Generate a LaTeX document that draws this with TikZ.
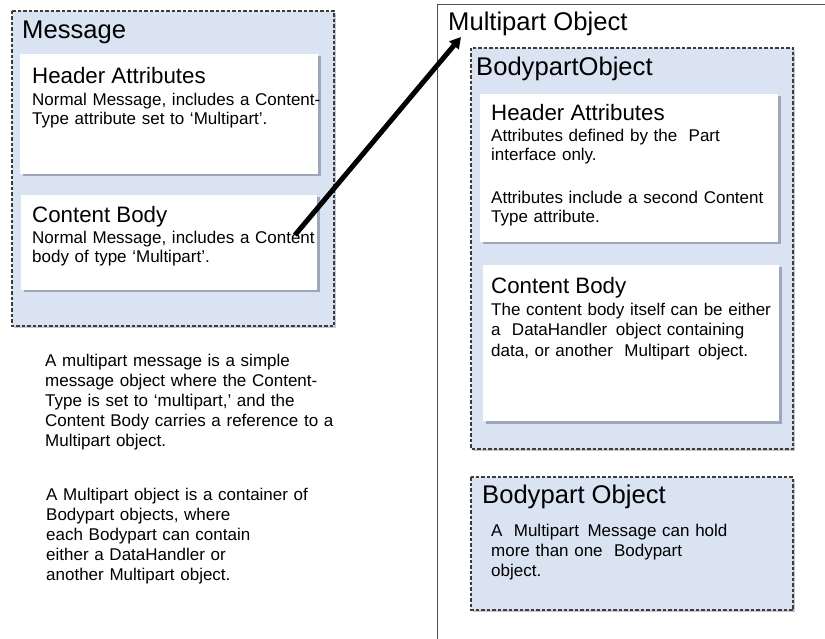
\documentclass[tikz,border=0pt]{standalone}
\usepackage{fontspec}
\setmainfont{Liberation Sans}
\usetikzlibrary{shadows,arrows.meta}
\definecolor{boxblue}{RGB}{218,227,242}
\definecolor{dashgray}{RGB}{60,60,60}
\definecolor{framegray}{RGB}{80,80,80}
\definecolor{shadowcol}{RGB}{110,118,140}
\begin{document}
\begin{tikzpicture}[x=1pt,y=-1pt,
  outerbox/.style={draw=dashgray, dash pattern=on 3.5pt off 2pt, line width=1.1pt, fill=boxblue,
    drop shadow={shadow xshift=2pt, shadow yshift=-2pt, opacity=0.4, fill=shadowcol}},
  whitebox/.style={fill=white,
    drop shadow={shadow xshift=2.5pt, shadow yshift=-2.5pt, opacity=0.55, fill=shadowcol}},
  titletext/.style={anchor=base west, inner sep=0pt, font=\fontsize{25.6}{28}\selectfont},
  headtext/.style={anchor=base west, inner sep=0pt, font=\fontsize{22.3}{25}\selectfont},
  bodytext/.style={anchor=base west, inner sep=0pt, align=left, text width=300pt,
    font=\fontsize{17}{18.5}\selectfont},
  looseText/.style={bodytext, font=\fontsize{17}{20}\selectfont},
]
\useasboundingbox (0,0) rectangle (825,639);
\clip (0,0) rectangle (825,639);

% Message box
\path[outerbox] (12,11) rectangle (334,326);
\node[titletext] (msgtitle) at (22,39) {Message};
\path[whitebox] (20,54) rectangle (318,174);
\node[headtext] (lhead) at (32,84) {Header Attributes};
\node[bodytext] (lheadbody) at (32,106) {Normal Message, includes a Content-\\Type attribute set to ‘Multipart’.};
\path[whitebox] (21,195) rectangle (317,290);
\node[headtext] (lcont) at (32,223) {Content Body};
\node[bodytext] (lcontbody) at (32,244) {Normal Message, includes a Content\\body of type ‘Multipart’.};

% left explanation
\node[looseText] (para1) at (45,366) {A multipart message is a simple\\message object where the Content-\\Type is set to ‘multipart,’ and the\\Content Body carries a reference to a\\Multipart object.};
\node[looseText] (para2) at (46,500) {A Multipart object is a container of\\Bodypart objects, where\\each Bodypart can contain\\either a DataHandler or\\another Multipart object.};

% Multipart object frame
\draw[framegray, line width=1pt] (825,5) -- (437,5) -- (437,645);
\node[titletext] (mptitle) at (448,31) {Multipart Object};

% BodypartObject
\path[outerbox] (471,48) rectangle (793,449);
\node[titletext] (bptitle) at (476,76) {BodypartObject};
\path[whitebox] (480,94) rectangle (778,242);
\node[headtext] (rhead) at (491,121) {Header Attributes};
\node[bodytext] (rheadbody1) at (491,142) {Attributes defined by the \ Part\\interface only.};
\node[bodytext] (rheadbody2) at (491,204) {Attributes include a second Content\\Type attribute.};
\path[whitebox] (483,265) rectangle (779,421);
\node[headtext] (rcont) at (491,294) {Content Body};
\node[looseText] (rcontbody) at (491,316) {The content body itself can be either\\a \ DataHandler \,object containing\\data, or another \ Multipart \,object.};

% Bodypart Object
\path[outerbox] (471,477) rectangle (793,610);
\node[titletext] (bp2title) at (482,503) {Bodypart Object};
\node[looseText] (bp2body) at (491,536) {A \ Multipart \,Message can hold\\more than one \ Bodypart\\object.};

% arrow
\coordinate (arrowstart) at (295,235);
\coordinate (arrowend) at (461,37);
\draw[line width=5pt, -{Triangle[length=11pt,width=12pt]}] (arrowstart) -- (arrowend);
\end{tikzpicture}
\end{document}
